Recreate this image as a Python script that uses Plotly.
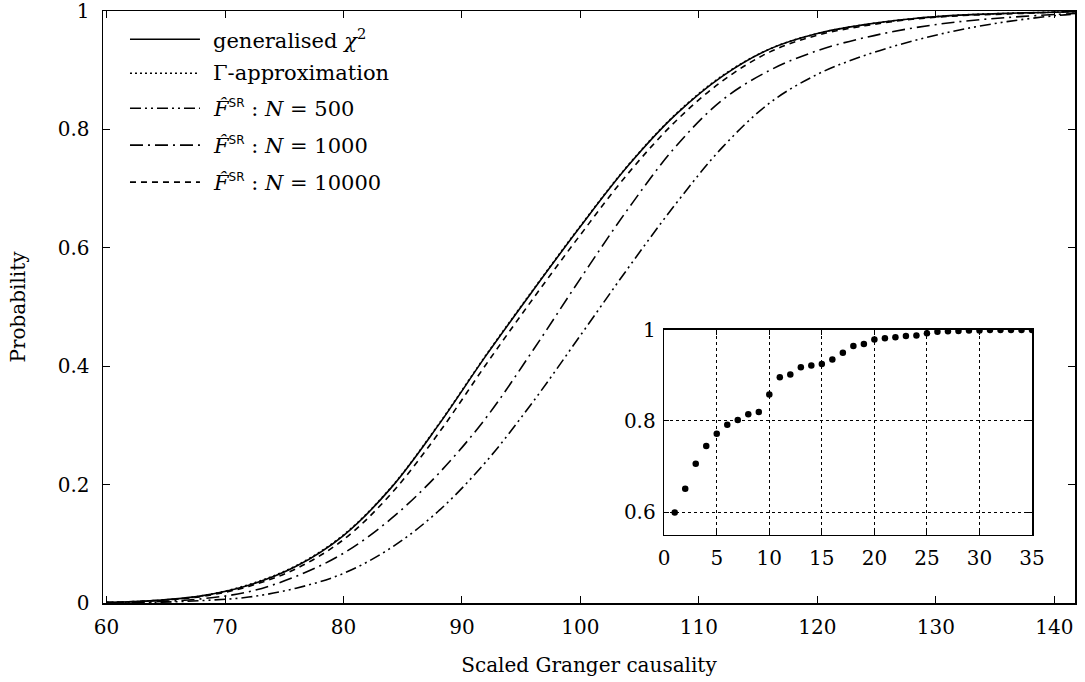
import plotly.graph_objects as go

# ---------------- data ----------------
x_grid = [60, 64, 68, 72, 76, 80, 84, 88, 92, 96, 100, 104, 108, 112, 116, 120, 124, 128, 132, 136, 140, 142]

chi2_general = [0.001, 0.004, 0.012, 0.030, 0.062, 0.114, 0.194, 0.300, 0.417, 0.528, 0.636, 0.738,
                0.824, 0.890, 0.936, 0.962, 0.977, 0.987, 0.993, 0.996, 0.998, 0.999]
gamma_approx = [0.001, 0.004, 0.012, 0.031, 0.063, 0.115, 0.195, 0.301, 0.418, 0.529, 0.637, 0.739,
                0.825, 0.891, 0.936, 0.962, 0.977, 0.987, 0.993, 0.996, 0.998, 0.999]
sr_500 = [0.000, 0.001, 0.004, 0.010, 0.025, 0.050, 0.093, 0.155, 0.238, 0.340, 0.452, 0.565,
          0.673, 0.770, 0.845, 0.893, 0.925, 0.949, 0.968, 0.982, 0.992, 0.995]
sr_1000 = [0.000, 0.002, 0.007, 0.019, 0.045, 0.084, 0.142, 0.218, 0.312, 0.427, 0.548, 0.665,
           0.770, 0.850, 0.900, 0.933, 0.955, 0.971, 0.982, 0.989, 0.994, 0.996]
sr_10000 = [0.001, 0.004, 0.011, 0.028, 0.058, 0.107, 0.184, 0.286, 0.402, 0.514, 0.622, 0.725,
            0.813, 0.882, 0.931, 0.959, 0.975, 0.986, 0.992, 0.995, 0.998, 0.999]

inset_x = list(range(1, 36))
inset_y = [0.599, 0.651, 0.706, 0.745, 0.772, 0.792, 0.802, 0.815, 0.820, 0.858,
           0.896, 0.902, 0.918, 0.922, 0.925, 0.935, 0.950, 0.965, 0.969, 0.979,
           0.982, 0.984, 0.987, 0.988, 0.993, 0.996, 0.997, 0.998, 0.999, 0.999,
           1.000, 1.000, 1.000, 1.000, 1.000]

main_xticks = [60, 70, 80, 90, 100, 110, 120, 130, 140]
main_yticks = [0, 0.2, 0.4, 0.6, 0.8, 1]
main_yticklabels = ["0", "0.2", "0.4", "0.6", "0.8", "1"]
inset_xticks = [0, 5, 10, 15, 20, 25, 30, 35]
inset_yticks = [0.6, 0.8, 1]
inset_yticklabels = ["0.6", "0.8", "1"]

SR = "<span style='font-family:DejaVu Sans;font-size:12px'>SR</span>"
legend_labels = [
    "generalised <i>χ</i><sup>2</sup>",
    "Γ-approximation",
    "<i>F\u0302</i><sup>" + SR + "</sup> : <i>N</i> = 500",
    "<i>F\u0302</i><sup>" + SR + "</sup> : <i>N</i> = 1000",
    "<i>F\u0302</i><sup>" + SR + "</sup> : <i>N</i> = 10000",
]

# ---------------- styles ----------------
FONT = "DejaVu Serif"
FS = 20
FS_LEG = 21
W, H = 1085, 682
L, R, T, B = 103, 9.5, 10.7, 78.7
PW, PH = W - L - R, H - T - B

dashes = ["solid", "2px,3px", "11px,4px,2px,4px,2px,4px", "13px,5px,2px,5px", "6px,5px"]
series = [chi2_general, gamma_approx, sr_500, sr_1000, sr_10000]

fig = go.Figure()
for ys, d in zip(series, dashes):
    fig.add_trace(go.Scatter(x=x_grid, y=ys, mode="lines", line_shape="spline",
                             line=dict(color="black", width=1.6, dash=d),
                             showlegend=False, xaxis="x", yaxis="y"))

fig.add_trace(go.Scatter(x=inset_x, y=inset_y, mode="markers",
                         marker=dict(color="black", size=6.5),
                         showlegend=False, xaxis="x2", yaxis="y2"))

# window pixel -> paper fraction
def px_x(p):
    return (p - L) / PW

def px_y(p):
    return (H - B - p) / PH

ix0, ix1 = px_x(664.5), px_x(1032.5)
iy0, iy1 = px_y(535), px_y(330)

shapes = [dict(type="rect", xref="paper", yref="paper", x0=ix0, x1=ix1, y0=iy0, y1=iy1,
               fillcolor="white", line=dict(width=0), layer="below")]
annotations = []
leg_y = [39, 73, 108, 145, 182]
for lab, d, py in zip(legend_labels, dashes, leg_y):
    yy = px_y(py)
    shapes.append(dict(type="line", xref="paper", yref="paper", x0=px_x(130), x1=px_x(200),
                       y0=yy, y1=yy, line=dict(color="black", width=1.6, dash=d)))
    annotations.append(dict(xref="paper", yref="paper", x=px_x(211), y=yy, text=lab,
                            showarrow=False, xanchor="left", yanchor="middle",
                            font=dict(family=FONT, size=FS_LEG, color="black")))

axis_common = dict(showline=True, linecolor="black", linewidth=1.5, mirror="allticks",
                   ticks="inside", ticklen=7, tickwidth=1, tickcolor="black",
                   showgrid=False, zeroline=False, automargin=False, ticklabeloverflow="allow",
                   tickfont=dict(family=FONT, size=FS, color="black"))

inset_common = dict(showline=True, linecolor="black", linewidth=1.5, mirror="allticks",
                    ticks="inside", ticklen=5, tickcolor="black", automargin=False,
                    showgrid=True, gridcolor="black", griddash="dot", gridwidth=1, zeroline=False,
                    tickfont=dict(family=FONT, size=FS, color="black"))

fig.update_layout(
    width=W, height=H,
    margin=dict(l=L, r=R, t=T, b=B, pad=0),
    paper_bgcolor="white", plot_bgcolor="white",
    showlegend=False,
    xaxis=dict(range=[59.7, 141.75], tickvals=main_xticks, domain=[0, 1], ticklabelstandoff=5,
               title=dict(text="Scaled Granger causality", font=dict(family=FONT, size=FS, color="black"),
                          standoff=20),
               **axis_common),
    yaxis=dict(range=[0, 1], tickvals=main_yticks, ticktext=main_yticklabels, domain=[0, 1],
               ticklabelstandoff=8,
               title=dict(text="Probability", font=dict(family=FONT, size=FS, color="black"),
                          standoff=26),
               **axis_common),
    xaxis2=dict(range=[0, 35], tickvals=inset_xticks, domain=[ix0, ix1], anchor="y2",
                ticklabelstandoff=5, **inset_common),
    yaxis2=dict(range=[0.55, 1.0], tickvals=inset_yticks, ticktext=inset_yticklabels,
                domain=[iy0, iy1], anchor="x2", ticklabelstandoff=3, **inset_common),
    shapes=shapes,
    annotations=annotations,
)

fig.write_html("out.html",
               config={"displayModeBar": False, "staticPlot": True},
               post_script="document.body.style.margin='0';document.body.style.overflow='hidden';")
